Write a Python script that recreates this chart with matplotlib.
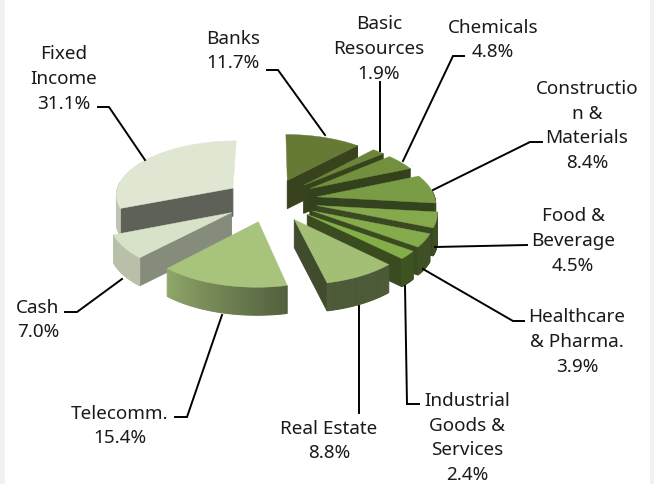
import numpy as np
import matplotlib
matplotlib.use('Agg')
import matplotlib.pyplot as plt
from matplotlib.patches import Polygon, Rectangle

# Data, clockwise from twelve o'clock
sectors = ['Banks', 'Basic\nResources', 'Chemicals', 'Constructio\nn &\nMaterials',
           'Food &\nBeverage', 'Healthcare\n& Pharma.', 'Industrial\nGoods &\nServices',
           'Real Estate', 'Telecomm.', 'Cash', 'Fixed\nIncome']
shares = [11.7, 1.9, 4.8, 8.4, 4.5, 3.9, 2.4, 8.8, 15.4, 7.0, 31.1]
colors = ['#667a35', '#6c8639', '#72903e', '#7a9c47', '#86a94d', '#86ab4c',
          '#84ae48', '#a3bf75', '#a8c47c', '#d8e2c8', '#dfe6d2']
side_dark = [0.55, 0.5, 0.45, 0.43, 0.43, 0.43, 0.43, 0.4, 0.45, 0.62, 0.42]

# Pixel layout of the labels: text centre, then the leader line
label_pos = [(233, 50), (379, 48), (493, 39), (587, 125), (573, 240), (577, 341),
             (467, 437), (329, 440), (120, 425), (38, 319), (64, 78)]
leaders = [[(267, 71), (278, 71), (325, 136)], [(380, 83), (380, 152)],
           [(464, 57), (453, 57), (403, 162)], [(542, 143), (530, 143), (433, 191)],
           [(527, 246), (435, 248)], [(524, 322), (513, 322), (423, 270)],
           [(419, 405), (407, 405), (405, 287)], [(359, 414), (359, 307)],
           [(175, 418), (187, 418), (222, 316)], [(65, 313), (77, 313), (122, 280)],
           [(98, 108), (109, 108), (145, 161)]]

# Pie geometry in pixels
cx, cy = 271, 201
radius = 118
tilt = 0.46
persp = 0.10
explode = 47
depth = 28


def project(x, y, drop=0):
    # x, y on the pie plane, y pointing to the back
    f = 1 / (1 + persp * y / radius)
    return cx + x * f, cy - y * tilt * f + drop


def shade(color, k):
    return tuple(c * k for c in matplotlib.colors.to_rgb(color))


def wall_quad(a, b):
    return [project(*a), project(*b), project(*b, depth), project(*a, depth)]


fig = plt.figure(figsize=(6.54, 4.85), dpi=100)
ax = fig.add_axes([0, 0, 1, 1])
ax.set_xlim(0, 654)
ax.set_ylim(485, 0)
ax.axis('off')
ax.add_patch(Rectangle((0, 0), 654, 485, color='#f1f1f1', zorder=0))
ax.add_patch(Rectangle((5, 0), 644, 485, color='white', zorder=0))

edges = np.cumsum([0] + shares) / sum(shares) * 2 * np.pi

# build every wedge first, then paint them from the back to the front
wedges = []
for i, col in enumerate(colors):
    t0, t1 = edges[i], edges[i + 1]
    mid = (t0 + t1) / 2
    ox, oy = explode * np.sin(mid), explode * np.cos(mid)
    ts = np.linspace(t0, t1, 40)
    rim = np.column_stack([ox + radius * np.sin(ts), oy + radius * np.cos(ts)])
    walls = []
    # the straight cut faces only show when they look towards the viewer
    if np.sin(t0) < 0:
        walls.append(((oy + rim[0][1]) / 2, wall_quad((ox, oy), rim[0]), shade(col, side_dark[i])))
    if np.sin(t1) > 0:
        walls.append(((oy + rim[-1][1]) / 2, wall_quad((ox, oy), rim[-1]), shade(col, side_dark[i])))
    for j in range(len(ts) - 1):
        a = (ts[j] + ts[j + 1]) / 2
        if np.cos(a) > 0.1:
            continue
        k = 0.47 + 0.38 * np.clip((np.degrees(a) - 165) / 57, 0, 1)
        walls.append((rim[j][1] - oy, wall_quad(rim[j], rim[j + 1]), shade(col, k)))
    walls.sort(key=lambda w: -w[0])
    top = [project(ox, oy)] + [project(*p) for p in rim]
    wedges.append((oy, walls, top, col))

wedges.sort(key=lambda w: -w[0])
z = 2.0
for _, walls, top, col in wedges:
    for _, quad, wall_col in walls:
        z += 0.001
        ax.add_patch(Polygon(quad, closed=True, fc=wall_col, ec=wall_col, lw=0.7, zorder=z))
    z += 0.001
    ax.add_patch(Polygon(top, closed=True, fc=col, ec=col, lw=0.3, zorder=z))

for name, share, pos, line in zip(sectors, shares, label_pos, leaders):
    xs, ys = zip(*line)
    ax.plot(xs, ys, color='black', lw=1.4, solid_joinstyle='miter', zorder=50)
    ax.text(pos[0], pos[1] + 1, f'{name}\n{share:.1f}%', ha='center', va='center',
            fontsize=13.6, family='Noto Sans', linespacing=1.48, color='#1a1a1a', zorder=60)

fig.savefig('out.png', dpi=100)
